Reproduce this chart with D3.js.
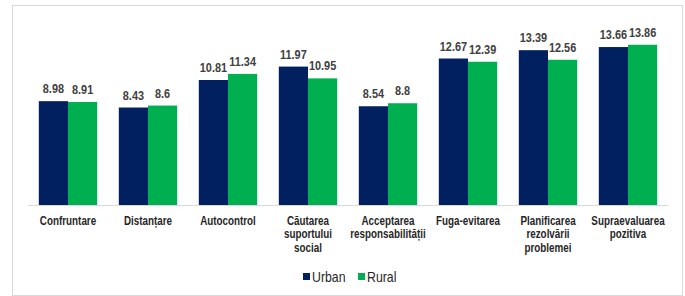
<!DOCTYPE html>
<meta charset="utf-8">
<style>
body { margin: 0; background: #fff; }
text { font-family: 'Liberation Sans', Arial, sans-serif; }
.val { font-size: 13px; font-weight: bold; fill: #404040; }
.cat { font-size: 12px; font-weight: bold; fill: #262626; }
.leg { font-size: 14px; fill: #262626; }
</style>
<body>
<script src="https://cdnjs.cloudflare.com/ajax/libs/d3/7.8.5/d3.min.js"></script>
<script>
var categories = ["Confruntare", "Distanțare", "Autocontrol", "Căutarea suportului social",
  "Acceptarea responsabilității", "Fuga-evitarea", "Planificarea rezolvării problemei", "Supraevaluarea pozitiva"];
var catLines = [["Confruntare"], ["Distanțare"], ["Autocontrol"], ["Căutarea", "suportului", "social"],
  ["Acceptarea", "responsabilității"], ["Fuga-evitarea"], ["Planificarea", "rezolvării", "problemei"], ["Supraevaluarea", "pozitiva"]];
var series = ["Urban", "Rural"];
var urban = [8.98, 8.43, 10.81, 11.97, 8.54, 12.67, 13.39, 13.66];
var rural = [8.91, 8.6, 11.34, 10.95, 8.8, 12.39, 12.56, 13.86];
var colors = ["#002060", "#00B050"];

var W = 685, H = 296;
var narrow = 0.82; // no Arial Narrow installed, squeeze horizontally
var svg = d3.select("body").append("svg").attr("width", W).attr("height", H);

// outer frame
svg.append("rect").attr("x", 12.5).attr("y", 5.5).attr("width", 670).attr("height", 290)
    .attr("fill", "none").attr("stroke", "#d9d9d9");

var x = d3.scaleBand().domain(categories).range([28, 668]).paddingInner(0.27).paddingOuter(0.135);
var x1 = d3.scaleBand().domain(series).range([0, x.bandwidth()]);
var y = d3.scaleLinear().domain([0, 16]).range([205, 20]);

var data = categories.map(function(c, i) {
  return {cat: c, lines: catLines[i], vals: [{s: "Urban", v: urban[i]}, {s: "Rural", v: rural[i]}]};
});

var grp = svg.selectAll(".grp").data(data).enter().append("g")
    .attr("transform", function(d) { return "translate(" + x(d.cat) + ",0)"; });

grp.selectAll("rect").data(function(d) { return d.vals; }).enter().append("rect")
    .attr("x", function(d) { return x1(d.s); })
    .attr("y", function(d) { return y(d.v); })
    .attr("width", x1.bandwidth())
    .attr("height", function(d) { return y(0) - y(d.v); })
    .attr("fill", function(d, i) { return colors[i]; });

grp.selectAll(".val").data(function(d) { return d.vals; }).enter().append("text")
    .attr("class", "val")
    .attr("transform", function(d) {
      return "translate(" + (x1(d.s) + x1.bandwidth() / 2) + "," + (y(d.v) - 8) + ") scale(0.84,1)";
    })
    .attr("text-anchor", "middle")
    .text(function(d) { return d.v; });

// axis line
svg.append("line").attr("x1", 28).attr("x2", 668).attr("y1", 205.5).attr("y2", 205.5)
    .attr("stroke", "#d9d9d9");

grp.append("text").attr("class", "cat")
    .attr("text-anchor", "middle")
    .attr("transform", "translate(" + (x.bandwidth() / 2) + ",225) scale(" + narrow + ",1)")
    .selectAll("tspan").data(function(d) { return d.lines; }).enter().append("tspan")
    .attr("x", 0)
    .attr("dy", function(d, i) { return i ? 13.5 : 0; })
    .text(function(d) { return d; });

// legend
var legX = [303, 358];
var leg = svg.selectAll(".legi").data(series).enter().append("g")
    .attr("transform", function(d, i) { return "translate(" + legX[i] + ",273)"; });
leg.append("rect").attr("width", 7).attr("height", 7).attr("fill", function(d, i) { return colors[i]; });
leg.append("text").attr("class", "leg")
    .attr("transform", "translate(9,8.5) scale(0.88,1)")
    .text(function(d) { return d; });
</script>
